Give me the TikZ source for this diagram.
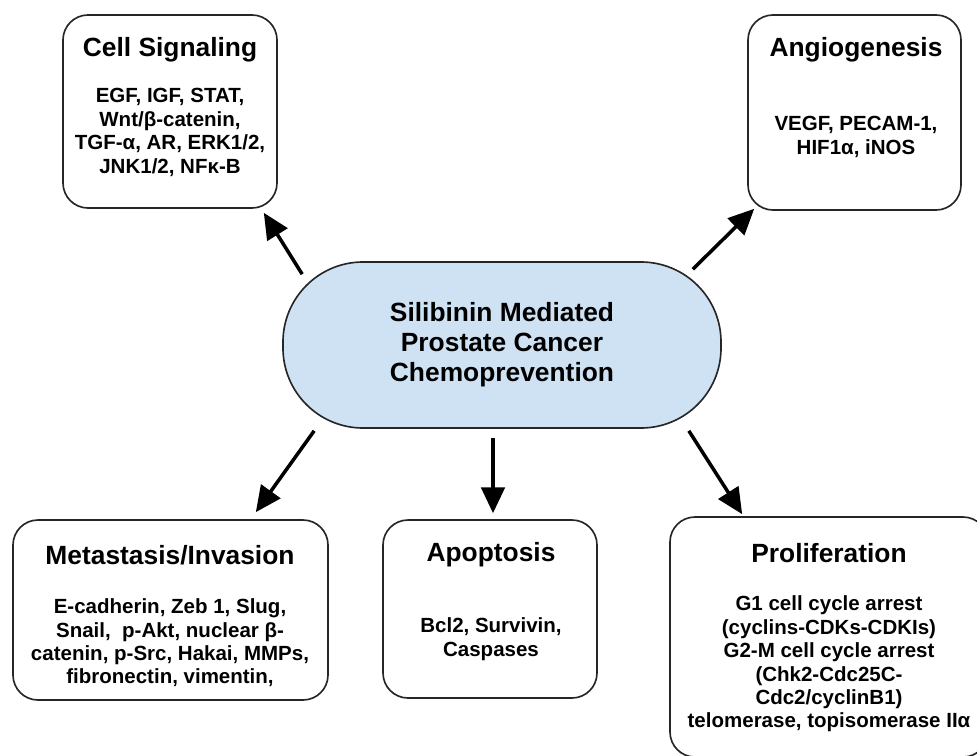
\documentclass[tikz,border=0pt]{standalone}
\usepackage{fontspec}
\setmainfont{Liberation Sans}
\usepackage{xcolor}
\usepackage{tikz}
\usetikzlibrary{calc, arrows.meta}

\definecolor{xanhnhat}{RGB}{207,226,243}
\tikzset{
    hop/.style={draw=black!85, line width=1.4pt, rounded corners=0.75cm, fill=white},
    tieude/.style={font=\fontsize{22.5}{26}\selectfont\bfseries},
    noidung/.style={align=center, font=\fontsize{17.5}{20}\selectfont\bfseries},
    muiten/.style={->, line width=3pt}
}

\begin{document}
\begin{tikzpicture}[x=0.03cm, y=-0.03cm, >={Triangle[length=22pt,width=20pt]}]
    \useasboundingbox (0,0) rectangle (977,756);
    % Nút trung tâm
    \node[draw=black!85, line width=1.4pt, fill=xanhnhat, rounded corners=2.4cm,
          minimum width=13.14cm, minimum height=4.98cm, align=center,
          font=\fontsize{22.5}{25.5}\selectfont\bfseries] (sil) at (502,345)
          {Silibinin Mediated\\ Prostate Cancer\\ Chemoprevention};
    
    % Các hộp
    \node[hop, minimum width=6.42cm, minimum height=5.79cm] (cs) at (170,111.5) {};
    \node[tieude] (cs-t) at (170,50) {Cell Signaling};
    \node[noidung] (cs-n) at (170,132.5) {EGF, IGF, STAT,\\ Wnt/β-catenin,\\ TGF-α, AR, ERK1/2,\\ JNK1/2, NFκ-B};
    
    \node[hop, minimum width=6.39cm, minimum height=5.85cm] (an) at (854.5,112.5) {};
    \node[tieude] (an-t) at (856,50) {Angiogenesis};
    \node[noidung] (an-n) at (856,137) {VEGF, PECAM-1,\\ HIF1α, iNOS};
    
    \node[hop, minimum width=9.45cm, minimum height=5.4cm] (mi) at (170.5,610) {};
    \node[tieude] (mi-t) at (170,555) {Metastasis/Invasion};
    \node[noidung] (mi-n) at (170,643) {E-cadherin, Zeb 1, Slug,\\ Snail,~ p-Akt, nuclear β-\\ catenin, p-Src, Hakai, MMPs,\\ fibronectin, vimentin,};
    
    \node[hop, minimum width=6.42cm, minimum height=5.34cm] (ap) at (490,609) {};
    \node[tieude] (ap-t) at (491,555) {Apoptosis};
    \node[noidung] (ap-n) at (491,639) {Bcl2, Survivin,\\ Caspases};
    
    \node[hop, minimum width=9.54cm, minimum height=7.2cm] (pr) at (829,637) {};
    \node[tieude] (pr-t) at (829,553) {Proliferation};
    \node[noidung] (pr-n) at (829,664) {G1 cell cycle arrest\\ (cyclins-CDKs-CDKIs)\\ G2-M cell cycle arrest\\ (Chk2-Cdc25C-\\ Cdc2/cyclinB1)\\ telomerase, topisomerase IIα};
    
    % Mũi tên
    \draw[muiten] ([shift={(20,13)}]sil.north west) -- ([shift={(-14,4)}]cs.south east);
    \draw[muiten] ([shift={(-29,8)}]sil.north east) -- ([shift={(7,-2)}]an.south west);
    \draw[muiten] ([shift={(32,2)}]sil.south west) -- ([shift={(-73,-7)}]mi.north east);
    \draw[muiten] ([shift={(-9,9)}]sil.south) -- ([shift={(3,-6)}]ap.north);
    \draw[muiten] ([shift={(-33,2)}]sil.south east) -- ([shift={(73,-2)}]pr.north west);
\end{tikzpicture}
\end{document}
